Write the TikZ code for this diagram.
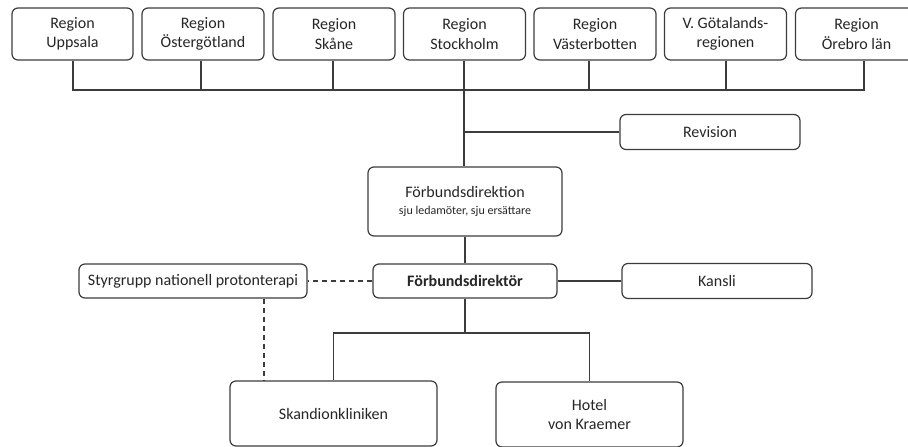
\documentclass[tikz,border=0pt]{standalone}
\usepackage{fontspec}
\setmainfont{Carlito}
\definecolor{ln}{HTML}{3C3C3C}
\definecolor{tx}{HTML}{262626}
\begin{document}
\begin{tikzpicture}[x=1pt,y=-1pt,
  box/.style={draw=ln, line width=1.2pt, rounded corners=6pt, fill=white, align=center,
    inner sep=0pt, text=tx, font=\fontsize{16}{19.5}\selectfont},
  topbox/.style={box, minimum width=122pt, minimum height=52pt},
  conn/.style={draw=ln, line width=1.2pt},
  dconn/.style={draw=ln, line width=1.2pt, dash pattern=on 5pt off 4pt}]
\useasboundingbox[fill=white] (0,0) rectangle (908,447);
% top row
\node[topbox, minimum width=121pt] (b1) at (72.5,34) {Region\\Uppsala};
\node[topbox] (b2) at (203,34) {Region\\Östergötland};
\node[topbox] (b3) at (334,34) {Region\\Skåne};
\node[topbox] (b4) at (464.5,34) {Region\\Stockholm};
\node[topbox] (b5) at (595,34) {Region\\Västerbotten};
\node[topbox] (b6) at (725.5,34) {V. Götalands-\\regionen};
\node[topbox] (b7) at (856.5,34) {Region\\Örebro län};
% middle
\node[box, minimum width=180pt, minimum height=35pt] (rev) at (710,132) {Revision};
\node[box, minimum width=194pt, minimum height=69pt, font=\fontsize{16}{17}\selectfont] (dirn) at (465,201.5)
  {Förbundsdirektion\\[0pt]{\fontsize{12}{14}\selectfont sju ledamöter, sju ersättare}};
\node[box, minimum width=184pt, minimum height=34pt, font=\fontsize{16}{19.5}\selectfont\bfseries] (dirk) at (465,281) {Förbundsdirektör};
\node[box, minimum width=190pt, minimum height=35pt] (kansli) at (717,281) {Kansli};
\node[box, minimum width=228pt, minimum height=34pt] (sty) at (193,281) {Styrgrupp nationell protonterapi};
\node[box, minimum width=207pt, minimum height=65pt] (sk) at (333.5,413.5) {Skandionkliniken};
\node[box, minimum width=187pt, minimum height=65pt] (ho) at (589.5,414.5) {Hotel\\von Kraemer};
% bus coordinates
\coordinate (busL) at (73,90);
\coordinate (busR) at (864,90);
\coordinate (revj) at (464,132);
\coordinate (lowbus) at (465,333);
\coordinate (dashx) at (264,0);
% connectors from regions
\draw[conn] (b1.south -| busL) -- (busL) -- (busR) -- (b7.south -| busR);
\draw[conn] (b2.south -| 201,0) -- (201,90);
\draw[conn] (b3.south -| 333,0) -- (333,90);
\draw[conn] (b5.south -| 589,0) -- (589,90);
\draw[conn] (b6.south -| 726,0) -- (726,90);
\draw[conn] (b4.south -| revj) -- (dirn.north -| revj);
\draw[conn] (revj) -- (rev.west);
\draw[conn] (dirn.south) -- (dirk.north);
\draw[conn] (dirk.east) -- (kansli.west);
\draw[dconn] (dirk.west) -- (sty.east);
\draw[dconn] (sty.south -| dashx) -- (sk.north -| dashx);
\draw[conn] (dirk.south) -- (lowbus);
\draw[conn] (sk.north) |- (lowbus) -| (ho.north);
\end{tikzpicture}
\end{document}
